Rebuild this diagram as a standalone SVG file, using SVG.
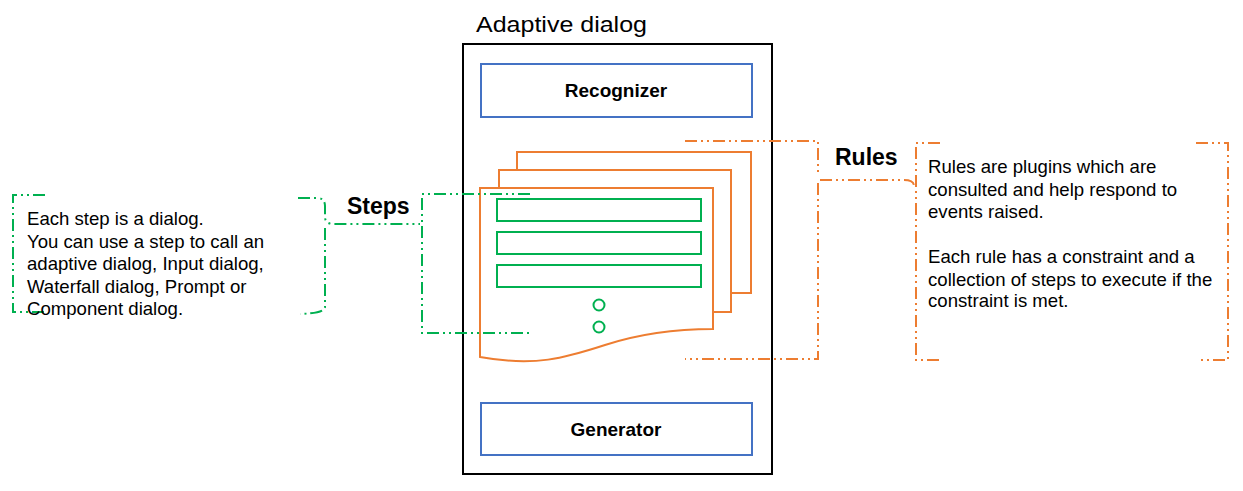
<svg xmlns="http://www.w3.org/2000/svg" width="1243" height="491" viewBox="0 0 1243 491">
<style>
.t{font-family:"Liberation Sans",Arial,sans-serif;fill:#000}
.body{font-size:18.6px}
.lbl{font-size:23px;font-weight:bold}
.inner{font-size:19px;font-weight:bold;text-anchor:middle}
.blue{fill:#fff;stroke:#4472C4;stroke-width:2}
.page{fill:#fff;stroke:#ED7D31;stroke-width:2}
.gbox{fill:#fff;stroke:#00B050;stroke-width:2}
.gdash{fill:none;stroke:#00B050;stroke-width:2;stroke-dasharray:12 4 2 4 2 4}
.odash{fill:none;stroke:#ED7D31;stroke-width:2;stroke-dasharray:12 4 2 4 2 4}
</style>
<rect width="1243" height="491" fill="#fff"/>
<g id="adaptive-dialog">
  <text class="t" x="476" y="32" font-size="22" textLength="171" lengthAdjust="spacingAndGlyphs">Adaptive dialog</text>
  <rect x="463" y="44" width="309" height="430" fill="none" stroke="#000" stroke-width="2"/>
</g>
<g id="recognizer">
  <rect class="blue" x="481" y="64" width="271" height="53"/>
  <text class="t inner" x="616" y="97">Recognizer</text>
</g>
<g id="generator">
  <rect class="blue" x="481" y="403" width="271" height="52"/>
  <text class="t inner" x="616" y="436">Generator</text>
</g>
<g id="rule-pages">
  <path class="page" d="M517,293 V152 H751 V293 Z"/>
  <path class="page" d="M499,312 V170 H731 V312 Z"/>
  <path class="page" d="M480,357 V188 H713 V329 C680,329 645,332 605,345 C565,358 535,367 480,357 Z"/>
  <rect class="gbox" x="497" y="199" width="204" height="22"/>
  <rect class="gbox" x="497" y="232" width="204" height="22"/>
  <rect class="gbox" x="497" y="265" width="204" height="22"/>
  <circle cx="599" cy="305" r="5.5" fill="none" stroke="#00B050" stroke-width="2"/>
  <circle cx="599" cy="327" r="5.5" fill="none" stroke="#00B050" stroke-width="2"/>
</g>
<g id="connectors">
  <path class="gdash" d="M45,195 H13 V312 H45"/>
  <path class="gdash" d="M298,198 H317 Q325,198 325,206 V217 Q325,224 334,224 H420"/>
  <path class="gdash" d="M325,228 V307 Q325,313 300,314"/>
  <path class="gdash" d="M530,194 H422 V333 H530"/>
  <path class="odash" d="M685,141 H818 V174"/>
  <path class="odash" d="M818,183 V359 H685"/>
  <path class="odash" d="M820,180 H904 Q914,180 914,186"/>
  <path class="odash" d="M940,143 H916 V360 H940"/>
  <path class="odash" d="M1196,143 H1228 V360 H1198"/>
</g>
<g id="steps-label">
  <text class="t lbl" x="347" y="214">Steps</text>
</g>
<g id="rules-label">
  <text class="t lbl" x="835" y="165">Rules</text>
</g>
<g id="steps-note">
  <text class="t body" x="27" y="225">Each step is a dialog.</text>
  <text class="t body" x="27" y="248">You can use a step to call an</text>
  <text class="t body" x="27" y="270">adaptive dialog, Input dialog,</text>
  <text class="t body" x="27" y="293">Waterfall dialog, Prompt or</text>
  <text class="t body" x="27" y="315">Component dialog.</text>
</g>
<g id="rules-note">
  <text class="t body" x="928" y="173">Rules are plugins which are</text>
  <text class="t body" x="928" y="196">consulted and help respond to</text>
  <text class="t body" x="928" y="218">events raised.</text>
  <text class="t body" x="928" y="263">Each rule has a constraint and a</text>
  <text class="t body" x="928" y="286">collection of steps to execute if the</text>
  <text class="t body" x="928" y="307">constraint is met.</text>
</g>
</svg>
